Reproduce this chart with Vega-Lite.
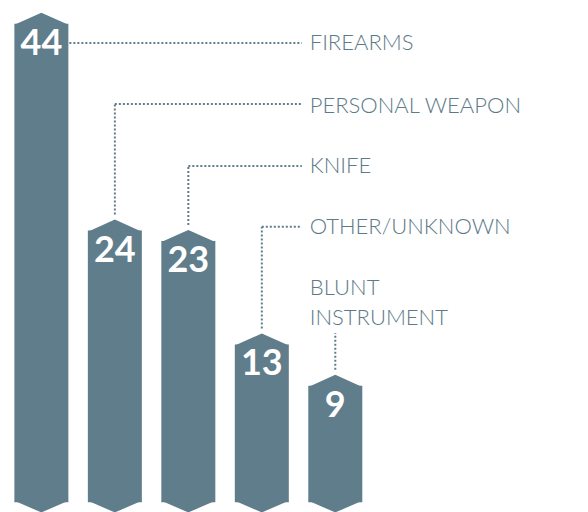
{
  "$schema": "https://vega.github.io/schema/vega-lite/v6.json",
  "width": 588,
  "height": 512,
  "autosize": {"type": "none"},
  "padding": 0,
  "background": "white",
  "config": {"view": {"stroke": null}},
  "data": {
    "values": [
      {"category": "Firearms", "label": "FIREARMS", "rank": 1, "value": 44, "label_y": 41.06, "leader_y": 41.06},
      {"category": "Personal weapon", "label": "PERSONAL WEAPON", "rank": 2, "value": 24, "label_y": 35.0, "leader_y": 35.17},
      {"category": "Knife", "label": "KNIFE", "rank": 3, "value": 23, "label_y": 29.18, "leader_y": 29.18},
      {"category": "Other/unknown", "label": "OTHER/UNKNOWN", "rank": 4, "value": 13, "label_y": 23.31, "leader_y": 23.31},
      {"category": "Blunt instrument", "label": "BLUNT\nINSTRUMENT", "rank": 5, "value": 9, "label_y": 17.4, "leader_y": 13.04}
    ]
  },
  "encoding": {
    "x": {"field": "rank", "type": "quantitative", "scale": {"domain": [0.505, 8.371], "nice": false, "zero": false}, "axis": null}
  },
  "layer": [
    {
      "mark": {"type": "bar", "color": "#607d8b", "width": 54, "yOffset": 11},
      "encoding": {
        "y": {"field": "value", "type": "quantitative", "scale": {"domain": [-4.25, 45.22], "nice": false, "zero": false}, "axis": null},
        "y2": {"datum": -3.3}
      }
    },
    {
      "mark": {"type": "point", "shape": "M-1,0.45L0,0L1,0.45Z", "size": 2916, "filled": true, "opacity": 1, "color": "#607d8b", "strokeWidth": 0},
      "encoding": {
        "y": {"field": "value", "type": "quantitative", "scale": {"domain": [-4.25, 45.22], "nice": false, "zero": false}, "axis": null}
      }
    },
    {
      "mark": {"type": "point", "shape": "M-1,-0.05L1,-0.05L0,0.38Z", "size": 2916, "filled": true, "opacity": 1, "color": "#607d8b", "strokeWidth": 0},
      "encoding": {
        "y": {"datum": -3.3, "type": "quantitative", "scale": {"domain": [-4.25, 45.22], "nice": false, "zero": false}, "axis": null}
      }
    },
    {
      "transform": [{"filter": "datum.leader_y > datum.value"}],
      "mark": {"type": "rule", "strokeDash": [2, 2], "strokeWidth": 2, "color": "#607d8b", "yOffset": -5},
      "encoding": {
        "y": {"field": "value", "type": "quantitative", "scale": {"domain": [-4.25, 45.22], "nice": false, "zero": false}, "axis": null},
        "y2": {"field": "leader_y"}
      }
    },
    {
      "transform": [{"filter": "datum.rank < 5"}],
      "mark": {"type": "rule", "strokeDash": [2, 2], "strokeWidth": 2, "color": "#607d8b"},
      "encoding": {
        "x2": {"datum": 4.545},
        "y": {"field": "leader_y", "type": "quantitative", "scale": {"domain": [-4.25, 45.22], "nice": false, "zero": false}, "axis": null}
      }
    },
    {
      "mark": {"type": "text", "align": "left", "baseline": "middle", "font": "Lato", "fontWeight": 300, "fontSize": 22, "color": "#5c7a87", "lineBreak": "\n", "lineHeight": 30.5},
      "encoding": {
        "x": {"datum": 4.652, "type": "quantitative"},
        "y": {"field": "label_y", "type": "quantitative", "scale": {"domain": [-4.25, 45.22], "nice": false, "zero": false}, "axis": null},
        "text": {"field": "label"}
      }
    },
    {
      "mark": {"type": "text", "align": "center", "baseline": "middle", "font": "Lato", "fontWeight": "bold", "fontSize": 36, "color": "white", "dy": 31},
      "encoding": {
        "y": {"field": "value", "type": "quantitative", "scale": {"domain": [-4.25, 45.22], "nice": false, "zero": false}, "axis": null},
        "text": {"field": "value", "type": "quantitative"}
      }
    }
  ]
}
